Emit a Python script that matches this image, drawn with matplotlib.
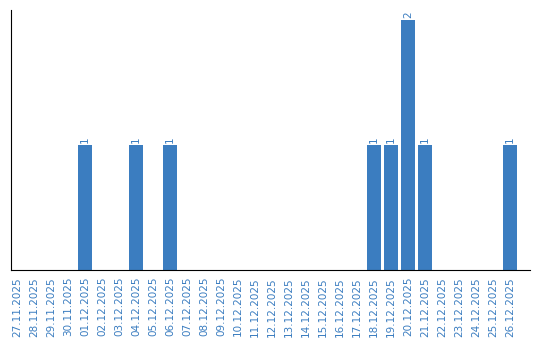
import matplotlib
matplotlib.use('Agg')
import matplotlib.pyplot as plt
import numpy as np

# dates shown on the x axis, one bar slot per day
dates = ['27.11.2025', '28.11.2025', '29.11.2025', '30.11.2025', '01.12.2025',
         '02.12.2025', '03.12.2025', '04.12.2025', '05.12.2025', '06.12.2025',
         '07.12.2025', '08.12.2025', '09.12.2025', '10.12.2025', '11.12.2025',
         '12.12.2025', '13.12.2025', '14.12.2025', '15.12.2025', '16.12.2025',
         '17.12.2025', '18.12.2025', '19.12.2025', '20.12.2025', '21.12.2025',
         '22.12.2025', '23.12.2025', '24.12.2025', '25.12.2025', '26.12.2025']
counts = [0, 0, 0, 0, 1, 0, 0, 1, 0, 1,
          0, 0, 0, 0, 0, 0, 0, 0, 0, 0,
          0, 1, 1, 2, 1, 0, 0, 0, 0, 1]

BLUE = '#3b7dc0'

fig = plt.figure(figsize=(5.4, 3.4), dpi=100)
ax = fig.add_axes([10.5 / 540, 70 / 340, (530 - 10.5) / 540, 260 / 340])

x = np.arange(len(dates))
bars = ax.bar(x, counts, width=0.82, color=BLUE, zorder=2)

for xi, v in zip(x, counts):
    if v > 0:
        ax.text(xi, v + 0.02, str(v), rotation=90, ha='center', va='bottom',
                fontsize=7.5, color=BLUE)

ax.set_xlim(-0.382, 30.18)
ax.set_ylim(0, 2.08)
ax.set_xticks(x)
ax.set_xticklabels(dates, rotation=90, fontsize=7.5, color=BLUE)
ax.tick_params(axis='x', length=0, pad=5)
ax.set_yticks([])
ax.spines['top'].set_visible(False)
ax.spines['right'].set_visible(False)
ax.spines['left'].set_color('black')
ax.spines['bottom'].set_color('black')

fig.savefig('out.png', dpi=100)
